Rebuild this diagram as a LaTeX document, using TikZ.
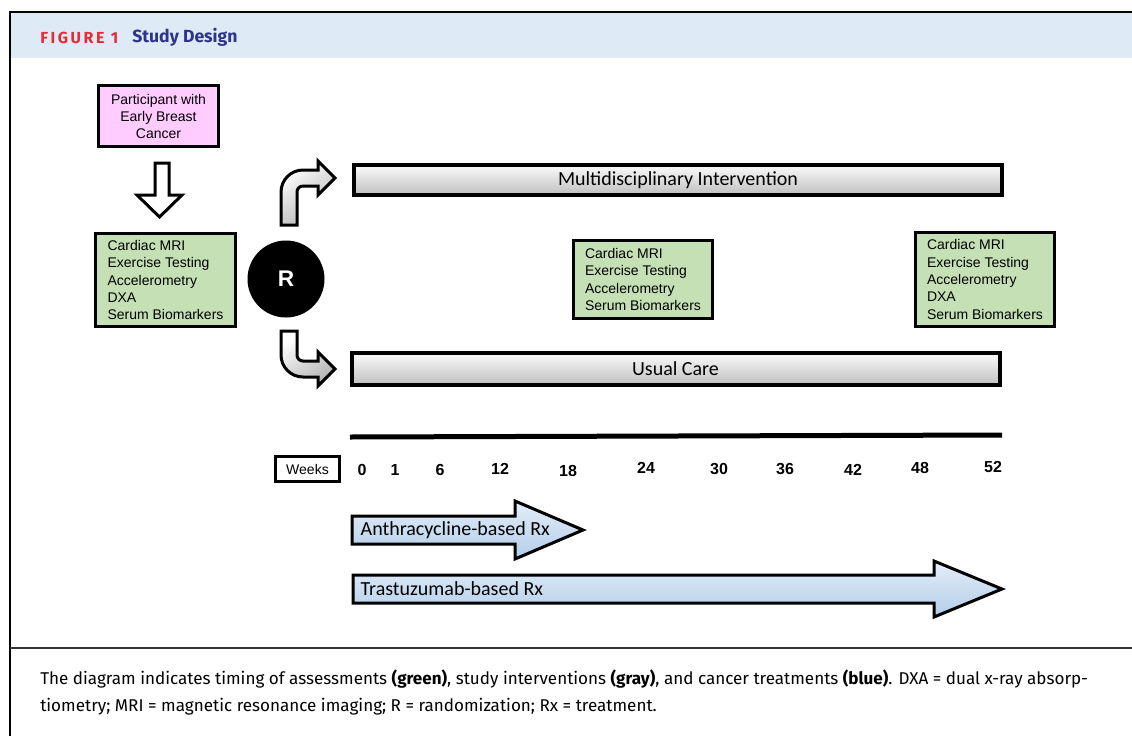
\documentclass[tikz,border=0pt]{standalone}
\usepackage{fontspec}
\setmainfont{Liberation Sans}
\newfontfamily\calfont{Carlito}
\newfontfamily\headfont{Fira Sans}
\newfontfamily\figfont[LetterSpace=16]{Fira Sans}
\newfontfamily\capfont{Fira Sans}
\usepackage{xcolor}
\definecolor{boxgreen}{RGB}{197,224,180}
\definecolor{boxpink}{RGB}{255,204,255}
\definecolor{headblue}{RGB}{222,234,246}
\definecolor{figred}{RGB}{228,45,55}
\definecolor{titleblue}{RGB}{46,52,140}
\definecolor{rxtop}{RGB}{228,238,249}
\definecolor{rxbot}{RGB}{178,205,232}
\tikzset{
    assess/.style={draw, line width=2.25pt, fill=boxgreen, align=left, inner sep=0pt,
        font=\fontsize{10.5}{13}\selectfont},
    barbox/.style={draw, line width=3pt, top color=gray!3, bottom color=gray!50, inner sep=0pt,
        minimum width=486pt, font=\calfont\fontsize{15}{18}\selectfont},
    rxarrow/.style={draw, line width=2.25pt, top color=rxtop, bottom color=rxbot},
    bentarrow/.style={draw, line width=2.25pt, top color=white, bottom color=gray!60, shading angle=35},
    weeknum/.style={font=\bfseries\fontsize{12}{14}\selectfont},
}

\begin{document}
\begin{tikzpicture}[x=0.75pt, y=-0.75pt]
\useasboundingbox (0,0) rectangle (1132,736);
    % frame and header
    \fill[headblue] (10,12) rectangle (1132,58);
    \draw[line width=1.5pt] (1132,12) -- (10,12) -- (10,736);
    \draw[line width=1.5pt, black!80] (10,648) -- (1132,648);
    \node[anchor=west, inner sep=0pt] (fignum) at (40,37.5) {\figfont\bfseries\fontsize{12}{14}\selectfont\color{figred}FIGURE 1};
    \node[anchor=west, inner sep=0pt] (figtitle) at (132,37) {\headfont\bfseries\fontsize{13.2}{16}\selectfont\color{titleblue}Study Design};
    % participant and baseline
    \node[draw, line width=2.25pt, fill=boxpink, align=center, inner sep=0pt, minimum width=90pt,
        minimum height=45.75pt, font=\fontsize{10.5}{12.75}\selectfont] (participant) at (158.5,116)
        {Participant with\\Early Breast\\Cancer};
    \draw[line width=2.25pt, fill=white] (155,163) -- (169,163) -- (169,195) -- (182,195)
        -- (159.5,217) -- (137,195) -- (155,195) -- cycle;
    \node[assess, minimum width=105pt, minimum height=69.75pt] (base) at (165.5,280)
        {Cardiac MRI\\Exercise Testing\\Accelerometry\\DXA\\Serum Biomarkers};
    % randomization
    \node[circle, fill=black, minimum size=57.75pt, inner sep=0pt, text=white,
        font=\bfseries\fontsize{17}{19}\selectfont] (rand) at (286,279) {R};
    \draw[bentarrow] (281,225) -- (281,192) .. controls (281,179.9) and (290.9,170) .. (303,170)
        -- (318,170) -- (318,161) -- (335,178) -- (318,195) -- (318,186) -- (303,186)
        .. controls (299.7,186) and (297,188.7) .. (297,192) -- (297,225) -- cycle;
    \draw[bentarrow] (281,331) -- (281,355) .. controls (281,367.1) and (290.9,377) .. (303,377)
        -- (318,377) -- (318,386) -- (335,369) -- (318,352) -- (318,361) -- (303,361)
        .. controls (299.7,361) and (297,358.3) .. (297,355) -- (297,331) -- cycle;
    % study arms
    \node[barbox, minimum height=22.5pt] (multi) at (678,180) {Multidisciplinary Intervention};
    \node[barbox, minimum height=24pt] (usual) at (675.5,369) {Usual Care};
    % follow-up assessments
    \node[assess, minimum width=104.25pt, minimum height=58.5pt] (mid) at (643,279.5)
        {Cardiac MRI\\Exercise Testing\\Accelerometry\\Serum Biomarkers};
    \node[assess, minimum width=104.25pt, minimum height=70.5pt] (final) at (985,279.5)
        {Cardiac MRI\\Exercise Testing\\Accelerometry\\DXA\\Serum Biomarkers};
    % timeline
    \coordinate (tlstart) at (350,437);
    \coordinate (tlend) at (1002,435);
    \draw[line width=3.75pt] (tlstart) -- (tlend);
    \node[draw, line width=2.25pt, minimum width=48pt, minimum height=18.75pt, inner sep=0pt,
        font=\fontsize{10.5}{12}\selectfont] (weeks) at (307.5,469) {Weeks};
    \foreach \wk/\px/\py in {0/362/470, 1/395/470, 6/440/470, 12/500/469, 18/568/471, 24/646/468,
        30/719/469, 36/785/469, 42/853/470, 48/920/468, 52/993/467}
        \node[weeknum] (wk\wk) at (\px,\py) {\wk};
    % treatments
    \draw[rxarrow] (352,516) -- (515,516) -- (515,501) -- (583,530) -- (515,559) -- (515,544)
        -- (352,544) -- cycle;
    \node[anchor=west, font=\calfont\fontsize{15}{18}\selectfont] (anthra) at (356,530) {Anthracycline-based Rx};
    \draw[rxarrow] (353,575) -- (934,575) -- (934,561) -- (1002,589) -- (934,617) -- (934,603)
        -- (353,603) -- cycle;
    \node[anchor=west, font=\calfont\fontsize{15}{18}\selectfont] (trast) at (356,589) {Trastuzumab-based Rx};
    % caption
    \node[anchor=base west, inner sep=0pt, font=\capfont\fontsize{12.8}{15}\selectfont] (cap1) at (40,684)
        {The diagram indicates timing of assessments \textbf{(green)}, study interventions \textbf{(gray)}, and cancer treatments \textbf{(blue)}. DXA = dual x-ray absorp-};
    \node[anchor=base west, inner sep=0pt, font=\capfont\fontsize{12.8}{15}\selectfont] (cap2) at (40,711)
        {tiometry; MRI = magnetic resonance imaging; R = randomization; Rx = treatment.};
\end{tikzpicture}
\end{document}
